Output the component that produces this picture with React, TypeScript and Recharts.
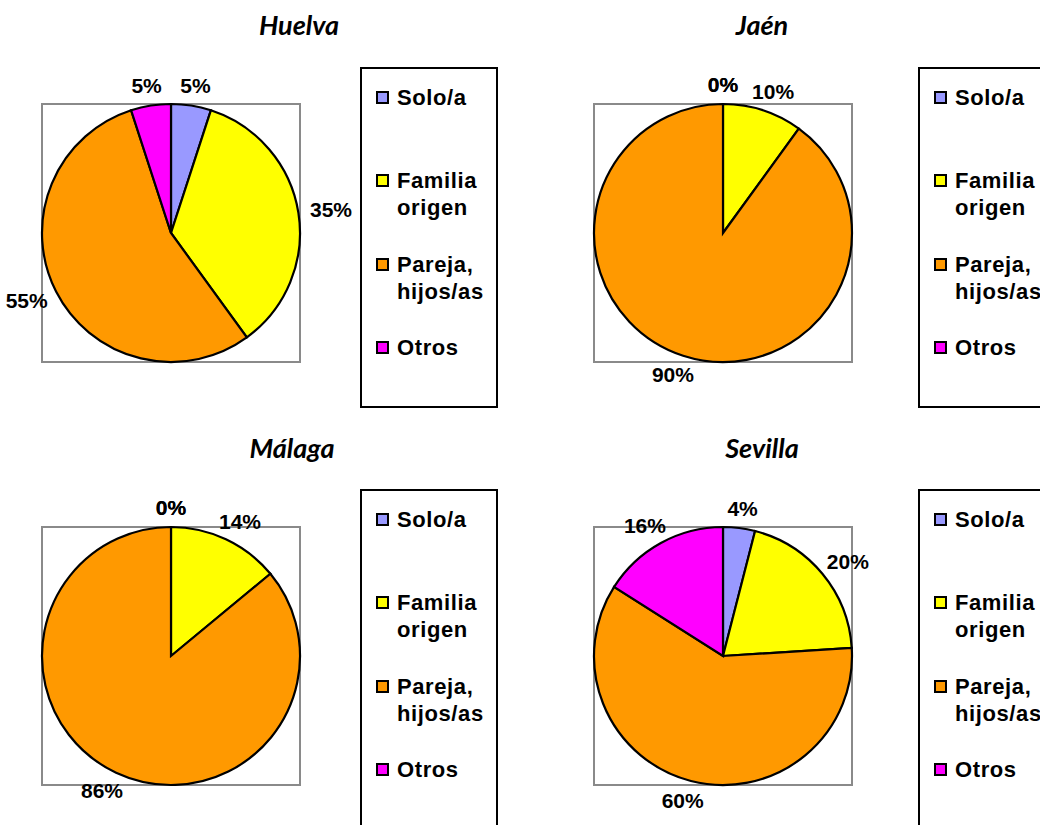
import React from 'react';
import { PieChart, Pie, Cell, Legend } from 'recharts';

// Living arrangement categories and their fill colours
const categories = ['Solo/a', 'Familia origen', 'Pareja, hijos/as', 'Otros'];
const colors = ['#9999FF', '#FFFF00', '#FF9900', '#FF00FF'];

// Percentages per province
const huelva = [5, 35, 55, 5];
const jaen = [0, 10, 90, 0];
const malaga = [0, 14, 86, 0];
const sevilla = [4, 20, 60, 16];

const titles = ['Huelva', 'Jaén', 'Málaga', 'Sevilla'];
const seriesList = [huelva, jaen, malaga, sevilla];

const LABEL_FONT = 21;
const RADIUS = 129;

type PanelLayout = {
  left: number;
  top: number;
  height: number;
  cx: number;
  cy: number;
  titleX: number;
  titleY: number;
  legendLeft: number;
  legendTop: number;
  legendWidth: number;
  legendHeight: number;
};

const layouts: PanelLayout[] = [
  { left: 0, top: 0, height: 412, cx: 171, cy: 233, titleX: 299, titleY: 24, legendLeft: 360, legendTop: 67, legendWidth: 138, legendHeight: 341 },
  { left: 520, top: 0, height: 412, cx: 203, cy: 233, titleX: 242, titleY: 24, legendLeft: 398, legendTop: 67, legendWidth: 160, legendHeight: 341 },
  { left: 0, top: 420, height: 405, cx: 171, cy: 236, titleX: 292, titleY: 27, legendLeft: 360, legendTop: 69, legendWidth: 138, legendHeight: 420 },
  { left: 520, top: 420, height: 405, cx: 203, cy: 236, titleX: 242, titleY: 27, legendLeft: 398, legendTop: 69, legendWidth: 160, legendHeight: 420 },
];

const renderLabel = (props: any) => {
  const { cx, cy, midAngle, outerRadius, value } = props;
  const rad = (-midAngle * Math.PI) / 180;
  const ux = Math.cos(rad);
  const uy = Math.sin(rad);
  const text = `${value}%`;
  const hw = ((String(value).length * 0.556 + 0.889) * LABEL_FONT) / 2;
  const hh = 8;
  const gap = 12;
  const x = cx + ux * (outerRadius + gap) + ux * hw;
  const y = cy + uy * (outerRadius + gap) + uy * hh;
  return (
    <text
      x={x}
      y={y}
      textAnchor="middle"
      dominantBaseline="central"
      fontFamily="'Liberation Sans', Arial, sans-serif"
      fontWeight="bold"
      fontSize={LABEL_FONT}
      fill="#000"
    >
      {text}
    </text>
  );
};

const itemTops = [30, 113, 197, 280];

const LegendBox = ({ payload }: any) => {
  // keep the legend in category order, whatever order the payload arrives in
  const items = categories.map((c, i) => {
    const p = (payload || []).find((e: any) => e.value === c);
    return { name: p ? p.value : c, color: colors[i] };
  });
  return (
    <div
      style={{
        position: 'relative',
        width: '100%',
        height: '100%',
        boxSizing: 'border-box',
        border: '2px solid #000',
        background: '#fff',
      }}
    >
      {items.map((it: any, i: number) => (
        <div
          key={it.name}
          style={{
            position: 'absolute',
            left: 14,
            top: itemTops[i] - 2 - 13.5,
            display: 'flex',
            alignItems: 'flex-start',
          }}
        >
          <div
            style={{
              width: 13,
              height: 13,
              boxSizing: 'border-box',
              border: '2px solid #000',
              background: it.color,
              marginTop: 7,
              flex: '0 0 auto',
            }}
          />
          <div
            style={{
              marginLeft: 8,
              width: 100,
              fontFamily: "'Liberation Sans', Arial, sans-serif",
              fontWeight: 'bold',
              fontSize: 22,
              letterSpacing: 0.6,
              lineHeight: '27px',
              color: '#000',
            }}
          >
            {it.name}
          </div>
        </div>
      ))}
    </div>
  );
};

const Panel = ({ idx }: { idx: number }) => {
  const L = layouts[idx];
  const values = seriesList[idx];
  const data = categories.map((name, i) => ({ name, value: values[i] }));
  return (
    <div style={{ position: 'absolute', left: L.left, top: L.top, width: 520, height: L.height }}>
      <div
        style={{
          position: 'absolute',
          left: L.cx - RADIUS - 1,
          top: L.cy - RADIUS - 1,
          width: RADIUS * 2 + 2,
          height: RADIUS * 2 + 2,
          boxSizing: 'border-box',
          border: '2px solid #8a8a8a',
        }}
      />
      <div
        style={{
          position: 'absolute',
          left: L.titleX,
          top: L.titleY,
          transform: 'translate(-50%, -50%)',
          fontFamily: 'Lato, "Open Sans", sans-serif',
          fontWeight: 'bold',
          fontStyle: 'italic',
          fontSize: 27,
          whiteSpace: 'nowrap',
          color: '#000',
        }}
      >
        {titles[idx]}
      </div>
      <div style={{ position: 'absolute', left: 0, top: 0 }}>
        <PieChart width={520} height={L.height} margin={{ top: 0, right: 0, bottom: 0, left: 0 }}>
          <Pie
            data={data}
            dataKey="value"
            nameKey="name"
            cx={L.cx}
            cy={L.cy}
            outerRadius={RADIUS}
            startAngle={90}
            endAngle={-270}
            stroke="#000"
            strokeWidth={2.2}
            label={renderLabel}
            labelLine={false}
            isAnimationActive={false}
          >
            {data.map((d, i) => (
              <Cell key={d.name} fill={colors[i]} stroke="#000" strokeWidth={2.2} />
            ))}
          </Pie>
          <Legend
            content={<LegendBox />}
            wrapperStyle={{
              left: L.legendLeft,
              top: L.legendTop,
              bottom: 'auto',
              width: L.legendWidth,
              height: L.legendHeight,
            }}
          />
        </PieChart>
      </div>
    </div>
  );
};

export default function App() {
  return (
    <div
      style={{
        position: 'fixed',
        left: 0,
        top: 0,
        width: 1040,
        height: 825,
        overflow: 'hidden',
        background: '#fff',
      }}
    >
      {layouts.map((_, i) => (
        <Panel key={titles[i]} idx={i} />
      ))}
    </div>
  );
}
